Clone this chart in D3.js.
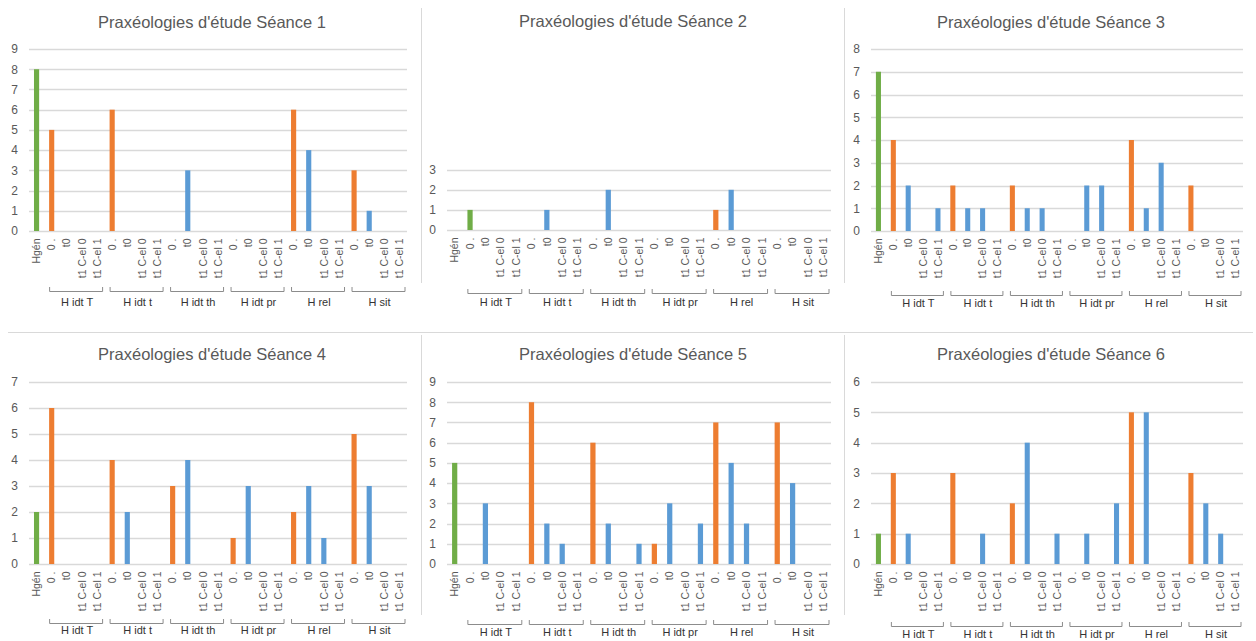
<!DOCTYPE html>
<html><head><meta charset="utf-8">
<script src="https://cdn.jsdelivr.net/npm/d3@7"></script>
<style>
body{margin:0;background:#fff;}
svg{display:block;font-family:"Liberation Sans",Arial,sans-serif;}
</style></head><body>
<svg id="c" width="1256" height="641"></svg>
<script>
// ---------- DATA ----------
const firstCategory = "Hgén";
const groups = ["H idt T", "H idt t", "H idt th", "H idt pr", "H rel", "H sit"];
const subCategories = ["0 .", "t0", "t1 C-el 0", "t1 C-el 1"];
const titles = [
  "Praxéologies d'étude Séance 1", "Praxéologies d'étude Séance 2", "Praxéologies d'étude Séance 3",
  "Praxéologies d'étude Séance 4", "Praxéologies d'étude Séance 5", "Praxéologies d'étude Séance 6"
];
// order: Hgén, then for each group: 0 ., t0, t1 C-el 0, t1 C-el 1
const seance1 = [8, 5,0,0,0, 6,0,0,0, 0,3,0,0, 0,0,0,0, 6,4,0,0, 3,1,0,0];
const seance2 = [0, 1,0,0,0, 0,1,0,0, 0,2,0,0, 0,0,0,0, 1,2,0,0, 0,0,0,0];
const seance3 = [7, 4,2,0,1, 2,1,1,0, 2,1,1,0, 0,2,2,0, 4,1,3,0, 2,0,0,0];
const seance4 = [2, 6,0,0,0, 4,2,0,0, 3,4,0,0, 1,3,0,0, 2,3,1,0, 5,3,0,0];
const seance5 = [5, 0,3,0,0, 8,2,1,0, 6,2,0,1, 1,3,0,2, 7,5,2,0, 7,4,0,0];
const seance6 = [1, 3,1,0,0, 3,0,1,0, 2,4,0,1, 0,1,0,2, 5,5,0,0, 3,2,1,0];
const seriesNames = ["Hgén", "0 .", "t"];
// in Séance 2 the value at "H idt T / 0 ." belongs to the Hgén series
const seance2SeriesOverride = [[1, "Hgén"]];
const yAxisMax = [9, 9, 8, 7, 9, 6];
const yTickMax = [9, 3, 8, 7, 9, 6];

// ---------- LAYOUT ----------
const allValues = [seance1, seance2, seance3, seance4, seance5, seance6];
const layout = [
  {x0: 29,  x1: 407,  yBase: 231, yTop: 49,  titleX: 212,  titleY: 27.5, bracketY: 291, groupY: 302.5},
  {x0: 447, x1: 831,  yBase: 230, yTop: 49,  titleX: 633,  titleY: 27,   bracketY: 293, groupY: 302.5},
  {x0: 871, x1: 1243, yBase: 231, yTop: 49,  titleX: 1051, titleY: 27.5, bracketY: 295, groupY: 303.5},
  {x0: 29,  x1: 407,  yBase: 564, yTop: 382, titleX: 212,  titleY: 360,  bracketY: 623, groupY: 630.5},
  {x0: 447, x1: 831,  yBase: 564, yTop: 382, titleX: 633,  titleY: 360,  bracketY: 624, groupY: 632.5},
  {x0: 871, x1: 1243, yBase: 564, yTop: 382, titleX: 1051, titleY: 360,  bracketY: 626, groupY: 634.5}
];

const color = d3.scaleOrdinal().domain(seriesNames).range(["#70ad47", "#ed7d31", "#5b9bd5"]);

const cats = [{id: firstCategory, label: firstCategory, group: null, series: "Hgén"}];
groups.forEach(g => subCategories.forEach(s => cats.push({id: g + "|" + s, label: s, group: g, series: s === "0 ." ? "0 ." : "t"})));

const svg = d3.select("#c");

// separators
const sep = svg.append("g").attr("stroke", "#d9d9d9").attr("stroke-width", 1);
sep.append("line").attr("x1", 8).attr("x2", 1253).attr("y1", 332.5).attr("y2", 332.5);
[421.5, 844.5].forEach(x => {
  sep.append("line").attr("x1", x).attr("x2", x).attr("y1", 8).attr("y2", 283);
  sep.append("line").attr("x1", x).attr("x2", x).attr("y1", 335).attr("y2", 615);
});

allValues.forEach((vals, i) => {
  const L = layout[i];
  const g = svg.append("g");
  const x = d3.scaleBand().domain(cats.map(c => c.id)).range([L.x0, L.x1]).padding(0);
  const y = d3.scaleLinear().domain([0, yAxisMax[i]]).range([L.yBase, L.yTop]);
  const ticks = d3.range(0, yTickMax[i] + 1);

  const series = cats.map(c => c.series);
  if (i === 1) seance2SeriesOverride.forEach(([k, s]) => series[k] = s);

  // title
  g.append("text").attr("x", L.titleX).attr("y", L.titleY).attr("text-anchor", "middle")
    .attr("font-size", 16.5).attr("fill", "#595959").text(titles[i]);

  // gridlines
  g.append("g").selectAll("line").data(ticks).join("line")
    .attr("x1", L.x0).attr("x2", L.x1)
    .attr("y1", d => Math.round(y(d)) + 0.5).attr("y2", d => Math.round(y(d)) + 0.5)
    .attr("stroke", "#d9d9d9").attr("stroke-width", 1.3);

  // y axis labels
  const ya = g.append("g").attr("transform", `translate(${L.x0 - 11},0)`)
    .call(d3.axisLeft(y).tickValues(ticks).tickSize(0).tickPadding(0).tickFormat(d3.format("d")));
  ya.select(".domain").remove();
  ya.selectAll("text").attr("font-size", 12).attr("fill", "#595959").attr("font-family", "Liberation Sans, Arial, sans-serif");

  // bars
  const bw = x.bandwidth() * 0.34;
  g.append("g").selectAll("rect").data(vals.map((v, k) => ({v, k}))).join("rect")
    .attr("x", d => x(cats[d.k].id) + x.bandwidth() / 2 - bw / 2)
    .attr("width", bw)
    .attr("y", d => y(d.v))
    .attr("height", d => y(0) - y(d.v))
    .attr("fill", d => color(series[d.k]));

  // category labels (rotated)
  const xa = g.append("g").attr("transform", `translate(0,${L.yBase + 7.5})`)
    .call(d3.axisBottom(x).tickSize(0).tickPadding(0).tickFormat(id => cats.find(c => c.id === id).label));
  xa.select(".domain").remove();
  xa.selectAll("text")
    .attr("font-size", 10.5).attr("fill", "#595959").attr("font-family", "Liberation Sans, Arial, sans-serif")
    .attr("text-anchor", "end").attr("transform", "rotate(-90)")
    .attr("x", 0).attr("y", 0).attr("dy", "0.35em");

  // group brackets
  const step = x.step();
  groups.forEach(gr => {
    const first = x(gr + "|" + subCategories[0]);
    const last = x(gr + "|" + subCategories[subCategories.length - 1]) + step;
    const bx0 = first + 5, bx1 = last - 1.5;
    g.append("path")
      .attr("d", `M${bx0 + 0.5},${L.bracketY - 4}V${L.bracketY + 0.5}H${bx1 - 0.5}V${L.bracketY - 4}`)
      .attr("fill", "none").attr("stroke", "#8c8c8c").attr("stroke-width", 1);
    g.append("text").attr("x", (bx0 + bx1) / 2 + 1).attr("y", L.groupY)
      .attr("dy", "0.35em").attr("text-anchor", "middle")
      .attr("font-size", 11).attr("fill", "#333333").text(gr);
  });
});
</script>
</body></html>
